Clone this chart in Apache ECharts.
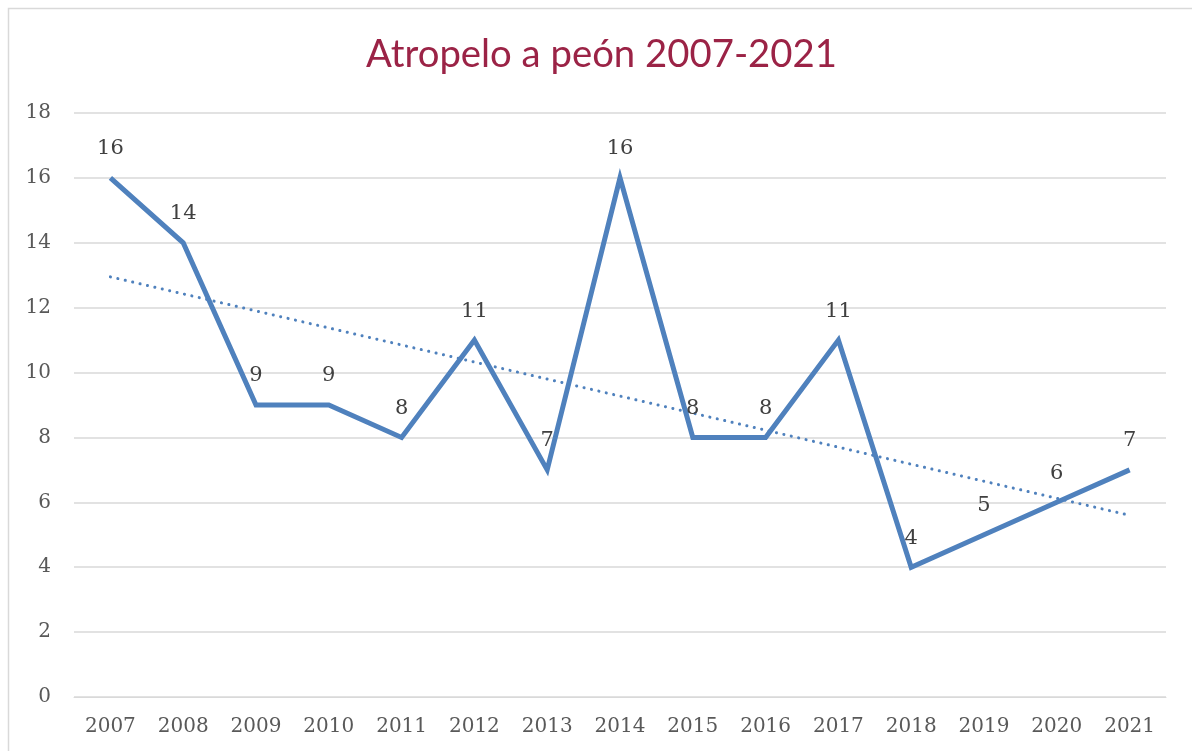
<!DOCTYPE html>
<html>
<head>
<meta charset="utf-8">
<script src="https://cdn.jsdelivr.net/npm/echarts@6/dist/echarts.min.js"></script>
<style>
  html, body { margin: 0; padding: 0; background: #fff; }
  #chart { width: 1192px; height: 751px; }
</style>
</head>
<body>
<div id="chart"></div>
<script>
// años y atropellos
var years = ['2007', '2008', '2009', '2010', '2011', '2012', '2013', '2014',
             '2015', '2016', '2017', '2018', '2019', '2020', '2021'];
var atropellos = [16, 14, 9, 9, 8, 11, 7, 16, 8, 8, 11, 4, 5, 6, 7];
// línea de tendencia (extremos)
var trendYears = ['2007', '2021'];
var trendValues = [12.95, 5.6];

var chart = echarts.init(document.getElementById('chart'));

var serif = '"DejaVu Serif", "Liberation Serif", serif';

chart.setOption({
  animation: false,
  title: {
    text: 'Atropelo a peón 2007-2021',
    left: 361,
    top: 31,
    textStyle: {
      color: '#9B2346',
      fontFamily: 'Lato, "Open Sans", sans-serif',
      fontWeight: 'normal',
      fontSize: 38.3
    }
  },
  graphic: [{
    type: 'rect',
    shape: { x: 8.5, y: 8.5, width: 1200, height: 800 },
    style: { fill: 'none', stroke: '#d9d9d9', lineWidth: 1.5 },
    silent: true
  }],
  grid: { left: 74, right: 26, top: 113, bottom: 54 },
  xAxis: {
    type: 'category',
    data: years,
    axisLine: { lineStyle: { color: '#d9d9d9' } },
    axisTick: { show: false },
    axisLabel: { color: '#595959', fontFamily: serif, fontSize: 20, margin: 20 }
  },
  yAxis: {
    type: 'value',
    min: 0,
    max: 18,
    interval: 2,
    axisLine: { show: false },
    axisTick: { show: false },
    splitLine: { lineStyle: { color: '#d9d9d9', width: 1.5 } },
    axisLabel: { color: '#595959', fontFamily: serif, fontSize: 20, margin: 23 }
  },
  series: [{
    name: 'Atropelos',
    type: 'line',
    data: atropellos,
    symbol: 'circle',
    symbolSize: 1,
    itemStyle: { color: 'rgba(0,0,0,0)' },
    lineStyle: { color: '#4F81BD', width: 5, join: 'miter' },
    label: {
      show: true,
      position: 'top',
      distance: 18,
      color: '#404040',
      fontFamily: serif,
      fontSize: 21
    },
    z: 3
  }, {
    name: 'Tendencia',
    type: 'line',
    data: trendYears.map(function (y, i) { return [y, trendValues[i]]; }),
    symbol: 'none',
    lineStyle: { color: '#4F81BD', width: 3, type: [0.1, 7.5], cap: 'round' },
    z: 2
  }]
});
</script>
</body>
</html>
